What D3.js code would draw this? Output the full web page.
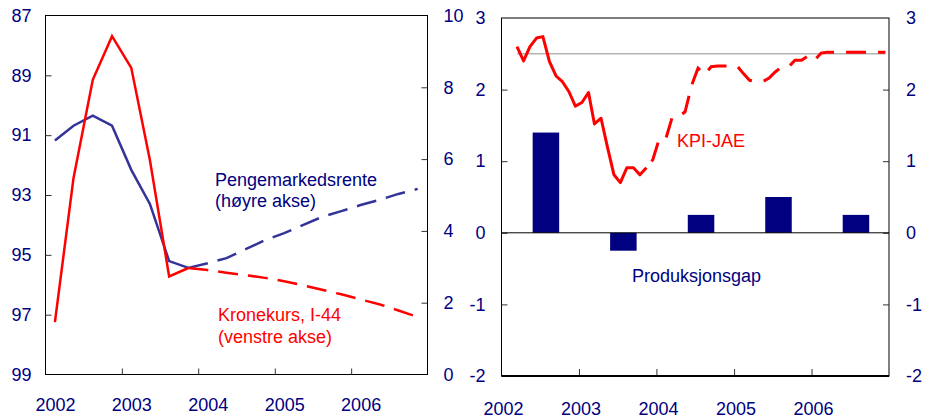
<!DOCTYPE html>
<meta charset="utf-8">
<style>
  body { margin: 0; background: #fff; }
  text { font-family: "Liberation Sans", Arial, sans-serif; font-size: 18px; }
  .axis text { fill: #000080; font-size: 18px; font-family: "Liberation Sans", Arial, sans-serif; }
  .axis line { stroke: #333; }
  .axis path { display: none; }
</style>
<body>
<div id="chart"></div>
<script src="https://d3js.org/d3.v7.min.js"></script>
<script>

// ---- data ----
var years = [2002, 2003, 2004, 2005, 2006];

// left panel: quarterly, mid-quarter
var quarters = ["2002-02-15","2002-05-15","2002-08-15","2002-11-15",
                "2003-02-15","2003-05-15","2003-08-15","2003-11-15",
                "2004-02-15","2004-05-15","2004-08-15","2004-11-15",
                "2005-02-15","2005-05-15","2005-08-15","2005-11-15",
                "2006-02-15","2006-05-15","2006-08-15","2006-11-15"];
var kronekursHist = [97.25, 92.43, 89.15, 87.69, 88.75, 91.83, 95.72, 95.44];
var kronekursProj = [95.44, 95.51, 95.60, 95.68, 95.77, 95.88, 96.02, 96.17, 96.32, 96.49, 96.65, 96.86, 97.08];
var renteHist = [6.52, 6.93, 7.21, 6.93, 5.70, 4.75, 3.16, 2.97];
var renteProj = [2.97, 3.10, 3.24, 3.49, 3.74, 3.94, 4.16, 4.39, 4.55, 4.72, 4.86, 5.03, 5.17];

// right panel: monthly KPI-JAE, Mar 2002 - Dec 2006
var kpiHist = [2.60, 2.40, 2.60, 2.72, 2.74, 2.39, 2.19, 2.11, 1.97, 1.77,
               1.82, 1.96, 1.52, 1.60, 1.20, 0.81, 0.70, 0.91, 0.91, 0.81, 0.91];
var kpiProj = [0.91, 1.02, 1.32, 1.32, 1.61, 1.62, 1.69, 2.06, 2.30, 2.21,
               2.32, 2.33, 2.33, 2.33, 2.33, 2.22, 2.13, 2.11, 2.11, 2.16,
               2.25, 2.32, 2.32, 2.41, 2.41, 2.47, 2.41, 2.51, 2.52, 2.52,
               2.52, 2.52, 2.52, 2.52, 2.52, 2.52, 2.52, 2.52];
var target = 2.5;
var gap = [1.4, -0.25, 0.25, 0.5, 0.25];

var leftTicks = [87, 89, 91, 93, 95, 97, 99];
var rightTicks = [0, 2, 4, 6, 8, 10];
var panel2Ticks = [-2, -1, 0, 1, 2, 3];

var parse = d3.timeParse("%Y-%m-%d");
var qDates = quarters.map(parse);
var kpiDates = d3.range(kpiHist.length + kpiProj.length - 1).map(function(i) {
  return new Date(2002, 2 + i, 15);
});
var plain = function(d) { return String(d); };

var svg = d3.select("#chart").append("svg")
    .attr("width", 926)
    .attr("height", 418);

var navy = "#000080", red = "#ff0000", blue = "#333399";

// ---------- left panel ----------
var L = {x0: 45.5, x1: 427.5, y0: 15.5, y1: 374.5};

var x1 = d3.scaleTime().domain([new Date(2002,0,1), new Date(2007,0,1)]).range([L.x0, L.x1]);
var yL = d3.scaleLinear().domain([87, 99]).range([L.y0, L.y1]);
var yR = d3.scaleLinear().domain([0, 10]).range([L.y1, L.y0]);

svg.append("rect")
    .attr("x", L.x0).attr("y", L.y0)
    .attr("width", L.x1 - L.x0).attr("height", L.y1 - L.y0)
    .attr("fill", "none").attr("stroke", "#000");

svg.append("g").attr("class", "axis")
    .attr("transform", "translate(" + L.x0 + ",0)")
    .call(d3.axisLeft(yL).tickValues(leftTicks).tickSize(-6).tickPadding(14).tickFormat(plain))
    .selectAll(".tick line").filter(function(d) { return d == 87 || d == 99; }).remove();

svg.append("g").attr("class", "axis")
    .attr("transform", "translate(" + L.x1 + ",0)")
    .call(d3.axisRight(yR).tickValues(rightTicks).tickSize(-6).tickPadding(16).tickFormat(plain))
    .selectAll(".tick line").filter(function(d) { return d == 0 || d == 10; }).remove();

svg.append("g").attr("class", "axis")
    .attr("transform", "translate(0," + L.y1 + ")")
    .call(d3.axisBottom(x1).tickValues(years.slice(1).map(function(y) { return new Date(y,0,1); }))
      .tickSize(-6).tickFormat(""));

svg.append("g").selectAll("text")
    .data(years).enter().append("text")
    .attr("x", function(d) { return x1(new Date(d,0,1)) + 10; })
    .attr("y", 411)
    .attr("text-anchor", "middle")
    .attr("fill", navy)
    .text(function(d) { return d; });

var lineL = d3.line()
    .x(function(d) { return x1(d[0]); })
    .y(function(d) { return yL(d[1]); });
var lineR = d3.line()
    .x(function(d) { return x1(d[0]); })
    .y(function(d) { return yR(d[1]); });

function pairs(dates, vals, start) {
  return vals.map(function(v, i) { return [dates[start + i], v]; });
}

svg.append("path")
    .datum(pairs(qDates, renteHist, 0))
    .attr("d", lineR).attr("fill", "none")
    .attr("stroke", blue).attr("stroke-width", 2.5);
svg.append("path")
    .datum(pairs(qDates, renteProj, 7))
    .attr("d", lineR).attr("fill", "none")
    .attr("stroke", blue).attr("stroke-width", 2.5)
    .attr("stroke-dasharray", "20,10");

svg.append("path")
    .datum(pairs(qDates, kronekursHist, 0))
    .attr("d", lineL).attr("fill", "none")
    .attr("stroke", red).attr("stroke-width", 2.5);
svg.append("path")
    .datum(pairs(qDates, kronekursProj, 7))
    .attr("d", lineL).attr("fill", "none")
    .attr("stroke", red).attr("stroke-width", 2.5)
    .attr("stroke-dasharray", "20,10");

svg.append("text").attr("x", 215).attr("y", 185.5).attr("fill", navy).text("Pengemarkedsrente");
svg.append("text").attr("x", 215).attr("y", 207).attr("fill", navy).text("(høyre akse)");
svg.append("text").attr("x", 218).attr("y", 321).attr("fill", red).text("Kronekurs, I-44");
svg.append("text").attr("x", 218).attr("y", 343).attr("fill", red).text("(venstre akse)");

// ---------- right panel ----------
var R = {x0: 501.5, x1: 889, y0: 18, y1: 376};

var x2 = d3.scaleTime().domain([new Date(2002,0,1), new Date(2007,0,1)]).range([R.x0, R.x1]);
var y2 = d3.scaleLinear().domain([-2, 3]).range([R.y1, R.y0]);

svg.append("rect")
    .attr("x", R.x0).attr("y", R.y0)
    .attr("width", R.x1 - R.x0).attr("height", R.y1 - R.y0)
    .attr("fill", "none").attr("stroke", "#000");

svg.append("g").attr("class", "axis")
    .attr("transform", "translate(" + R.x0 + ",0)")
    .call(d3.axisLeft(y2).tickValues(panel2Ticks).tickSize(-6).tickPadding(16).tickFormat(plain))
    .selectAll(".tick line").filter(function(d) { return d == -2 || d == 3; }).remove();

svg.append("g").attr("class", "axis")
    .attr("transform", "translate(" + R.x1 + ",0)")
    .call(d3.axisRight(y2).tickValues(panel2Ticks).tickSize(-6).tickPadding(17).tickFormat(plain))
    .selectAll(".tick line").filter(function(d) { return d == -2 || d == 3; }).remove();

svg.append("g").attr("class", "axis")
    .attr("transform", "translate(0," + R.y1 + ")")
    .call(d3.axisBottom(x2).tickValues(years.slice(1).map(function(y) { return new Date(y,0,1); }))
      .tickSize(-7).tickFormat(""));

svg.append("line")
    .attr("x1", R.x0).attr("x2", R.x1)
    .attr("y1", R.y1).attr("y2", R.y1)
    .attr("stroke", "#000").attr("stroke-width", 2);

svg.append("g").selectAll("text")
    .data(years).enter().append("text")
    .attr("x", function(d) { return x2(new Date(d,0,1)) + 2; })
    .attr("y", 414.5)
    .attr("text-anchor", "middle")
    .attr("fill", navy)
    .text(function(d) { return d; });

// bars (production gap), placed a little past mid-year
var barW = 26.5;
svg.append("g").selectAll("rect")
    .data(gap).enter().append("rect")
    .attr("x", function(d, i) { return x2(new Date(years[i], 6, 1)) + 6 - barW / 2; })
    .attr("width", barW)
    .attr("y", function(d) { return y2(Math.max(0, d)); })
    .attr("height", function(d) { return Math.abs(y2(d) - y2(0)); })
    .attr("fill", navy);

// zero line
svg.append("line")
    .attr("x1", R.x0).attr("x2", R.x1)
    .attr("y1", y2(0)).attr("y2", y2(0))
    .attr("stroke", "#000").attr("stroke-width", 1);

// inflation target line
svg.append("line")
    .attr("x1", x2(kpiDates[0])).attr("x2", x2(kpiDates[kpiDates.length - 1]))
    .attr("y1", y2(target)).attr("y2", y2(target))
    .attr("stroke", "#b4b4b4").attr("stroke-width", 1.5);

var line2 = d3.line()
    .x(function(d) { return x2(d[0]); })
    .y(function(d) { return y2(d[1]); });

svg.append("path")
    .datum(pairs(kpiDates, kpiHist, 0))
    .attr("d", line2).attr("fill", "none")
    .attr("stroke", red).attr("stroke-width", 3)
    .attr("stroke-linejoin", "round");
svg.append("path")
    .datum(pairs(kpiDates, kpiProj, kpiHist.length - 1))
    .attr("d", line2).attr("fill", "none")
    .attr("stroke", red).attr("stroke-width", 3)
    .attr("stroke-dasharray", "20,12")
    .attr("stroke-dashoffset", 24);

svg.append("text").attr("x", 677).attr("y", 147).attr("fill", red).text("KPI-JAE");
svg.append("text").attr("x", 632).attr("y", 282).attr("fill", navy).text("Produksjonsgap");

</script>
</body>
